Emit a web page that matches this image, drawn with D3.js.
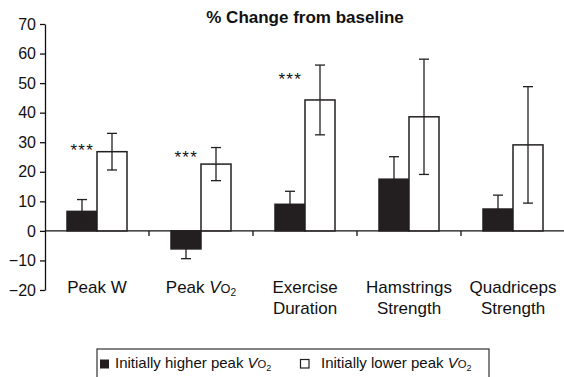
<!DOCTYPE html>
<html>
<head>
<meta charset="utf-8">
<script src="https://cdn.jsdelivr.net/npm/d3@7"></script>
<style>
  body { margin: 0; background: #fff; }
  svg { display: block; font-family: "Liberation Sans", Arial, sans-serif; }
</style>
</head>
<body>
<script>
// data
const categories = ['Peak W', 'Peak VO2', 'Exercise Duration', 'Hamstrings Strength', 'Quadriceps Strength'];
const groups = ['higher', 'lower'];
const higherMean = [6.6, -6.1, 9.0, 17.5, 7.4];
const higherErr = [4.0, 3.3, 4.4, 7.6, 4.7];
const lowerMean = [26.8, 22.6, 44.3, 38.6, 29.1];
const lowerErr = [6.2, 5.6, 11.8, 19.5, 19.7];
const stars = ['***', '***', '***', '', ''];
const starLevel = [25, 22.6, 49, null, null];
const yTicks = [-20, -10, 0, 10, 20, 30, 40, 50, 60, 70];
const legendLabels = ['Initially higher peak ', 'Initially lower peak '];

const svgWidth = 564;
const svgHeight = 377;

const svg = d3.select('body')
.append('svg')
.attr('width', svgWidth)
.attr('height', svgHeight)

const x = d3.scaleBand().domain(categories).range([45, 565]).padding(0);
const xInner = d3.scaleBand().domain(groups).range([-30, 30]).padding(0);
const y = d3.scaleLinear().domain([-20, 70]).range([290, 24]);

const rows = categories.map((c, i) => ({
    cat: c,
    bars: [
        { g: 'higher', v: higherMean[i], e: higherErr[i] },
        { g: 'lower', v: lowerMean[i], e: lowerErr[i] }
    ],
    star: stars[i],
    starY: starLevel[i]
}));

// writes "VO2" with italic V, small O and subscript 2
function appendVO2(text) {
    text.append('tspan').attr('font-style', 'italic').text('V');
    text.append('tspan').attr('font-size', '0.75em').text('O');
    text.append('tspan').attr('font-size', '0.6em').attr('dy', '0.3em').text('2');
}

// title
svg.append('text')
.attr('x', 305)
.attr('y', 23)
.attr('text-anchor', 'middle')
.attr('font-size', 17)
.attr('font-weight', 'bold')
.attr('fill', '#111')
.text('% Change from baseline')

// y axis
const yAxis = svg.append('g')
.attr('transform', 'translate(45,0)')
.call(d3.axisLeft(y)
    .tickValues(yTicks)
    .tickSize(5)
    .tickSizeOuter(0)
    .tickPadding(4)
    .tickFormat((d) => d < 0 ? '\u2212' + Math.abs(d) : d))
yAxis.selectAll('text').attr('font-size', 16).attr('fill', '#111').attr('font-family', null)
yAxis.selectAll('line, path').attr('stroke', '#111').attr('stroke-width', 1.3)

// x axis at zero
const xAxis = svg.append('g').attr('transform', `translate(0,${y(0)})`)
xAxis.append('line')
.attr('x1', 45).attr('x2', 564)
.attr('stroke', '#111').attr('stroke-width', 1.3)
xAxis.selectAll('.tick')
.data(categories.slice(1)).enter()
.append('line')
.attr('x1', (d) => x(d)).attr('x2', (d) => x(d))
.attr('y1', 0).attr('y2', 5)
.attr('stroke', '#111').attr('stroke-width', 1.3)

// bars
const cat = svg.selectAll('.cat')
.data(rows).enter()
.append('g')
.attr('class', 'cat')
.attr('transform', (d) => `translate(${x(d.cat) + x.bandwidth() / 2},0)`)

cat.selectAll('rect')
.data((d) => d.bars).enter()
.append('rect')
.attr('x', (d) => xInner(d.g))
.attr('width', xInner.bandwidth())
.attr('y', (d) => y(Math.max(0, d.v)))
.attr('height', (d) => Math.abs(y(d.v) - y(0)))
.attr('fill', (d) => d.g === 'higher' ? '#231f20' : '#fff')
.attr('stroke', '#231f20')
.attr('stroke-width', 1.5)

// error bars
const err = cat.selectAll('.err')
.data((d) => d.bars).enter()
.append('g')
.attr('class', 'err')
.attr('transform', (d) => `translate(${xInner(d.g) + xInner.bandwidth() / 2},0)`)
.attr('stroke', '#231f20')
.attr('stroke-width', 1.3)
err.append('line')
.attr('y1', (d) => y(d.v - d.e)).attr('y2', (d) => y(d.v + d.e))
err.append('line')
.attr('x1', -5).attr('x2', 5)
.attr('y1', (d) => y(d.v + d.e)).attr('y2', (d) => y(d.v + d.e))
err.append('line')
.attr('x1', -5).attr('x2', 5)
.attr('y1', (d) => y(d.v - d.e)).attr('y2', (d) => y(d.v - d.e))

// significance stars
cat.filter((d) => d.star)
.append('text')
.attr('x', xInner('lower') - 3)
.attr('y', (d) => y(d.starY) - 1)
.attr('text-anchor', 'end')
.attr('font-size', 17)
.attr('letter-spacing', 1.2)
.attr('fill', '#111')
.text((d) => d.star)

// category labels
cat.each(function (d) {
    const g = d3.select(this);
    const lines = d.cat.startsWith('Peak') ? [d.cat] : d.cat.split(' ');
    lines.forEach((line, i) => {
        const t = g.append('text')
        .attr('x', 0)
        .attr('y', 293 + i * 21)
        .attr('text-anchor', 'middle')
        .attr('font-size', 17)
        .attr('fill', '#111');
        if (line.endsWith('VO2')) {
            t.append('tspan').text(line.replace('VO2', ''));
            appendVO2(t);
        } else {
            t.text(line);
        }
    });
})

// legend
const legend = svg.append('g')
legend.append('rect')
.attr('x', 97).attr('y', 349)
.attr('width', 392).attr('height', 40)
.attr('fill', 'none')
.attr('stroke', '#333')
.attr('stroke-width', 1.2)

const legendX = [100, 300];
const legendTextX = [115, 321];
groups.forEach((g, i) => {
    legend.append('rect')
    .attr('x', legendX[i] + (g === 'lower' ? 0.5 : 0))
    .attr('y', 359.5)
    .attr('width', g === 'lower' ? 8.5 : 9)
    .attr('height', g === 'lower' ? 8.5 : 9)
    .attr('fill', g === 'higher' ? '#231f20' : '#fff')
    .attr('stroke', '#231f20')
    .attr('stroke-width', g === 'higher' ? 0 : 1.2)
    const t = legend.append('text')
    .attr('x', legendTextX[i])
    .attr('y', 368)
    .attr('font-size', 15)
    .attr('fill', '#111')
    t.append('tspan').text(legendLabels[i]);
    appendVO2(t);
})
</script>
</body>
</html>
